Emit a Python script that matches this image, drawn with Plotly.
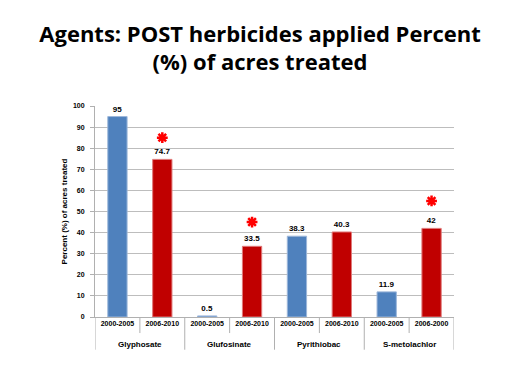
import plotly.graph_objects as go

herbicides = ["Glyphosate", "Glufosinate", "Pyrithiobac", "S-metolachlor"]
periods = ["2000-2005", "2006-2010", "2000-2005", "2006-2010",
           "2000-2005", "2006-2010", "2000-2005", "2006-2000"]
values_2000_2005 = [95, 0.5, 38.3, 11.9]
values_2006_2010 = [74.7, 33.5, 40.3, 42]
star_values = [85, 45, None, 55]

blue = "#4F81BD"
red = "#C00000"

x_blue = [2 * i for i in range(4)]
x_red = [2 * i + 1 for i in range(4)]

small_font = dict(family="Liberation Sans", size=8, color="black")

fig = go.Figure()
fig.add_trace(go.Bar(
    x=x_blue, y=values_2000_2005, width=0.43,
    marker=dict(color=blue, line=dict(color="#9db7da", width=1)),
    text=["<b>" + str(v) + "</b>" for v in values_2000_2005], textposition="outside",
    textfont=small_font, cliponaxis=False, showlegend=False))
fig.add_trace(go.Bar(
    x=x_red, y=values_2006_2010, width=0.43,
    marker=dict(color=red, line=dict(color="#e07a7a", width=1)),
    text=["<b>" + str(v) + "</b>" for v in values_2006_2010], textposition="outside",
    textfont=small_font, cliponaxis=False, showlegend=False))

sx = [x_red[i] for i, v in enumerate(star_values) if v is not None]
sy = [v for v in star_values if v is not None]
fig.add_trace(go.Scatter(
    x=sx, y=sy, mode="markers",
    marker=dict(symbol="asterisk-open", size=9, color="#FF0000",
                line=dict(color="#FF0000", width=2.5)),
    showlegend=False, hoverinfo="skip"))

shapes = []
for k in range(9):
    long = (k % 2 == 0)
    shapes.append(dict(type="line", xref="x", yref="paper",
                       x0=k - 0.5, x1=k - 0.5, y0=0,
                       y1=-0.155 if long else -0.076,
                       line=dict(color="#b0b0b0", width=1)))

annotations = []
for i, h in enumerate(herbicides):
    annotations.append(dict(x=2 * i + 0.5, y=-0.128, xref="x", yref="paper",
                            text="<b>" + h + "</b>", showarrow=False,
                            font=small_font, yanchor="middle"))

fig.update_layout(
    width=504, height=376,
    margin=dict(l=87, r=58, t=98, b=67),
    paper_bgcolor="white", plot_bgcolor="white",
    title=dict(text="<b>Agents: POST herbicides applied Percent<br>(%) of acres treated</b>",
               x=0.5, xanchor="center", y=0.91, yanchor="top",
               font=dict(family="Open Sans", size=22, color="black")),
    shapes=shapes, annotations=annotations,
    xaxis=dict(range=[-0.5, 7.5], tickmode="array", tickvals=list(range(8)),
               ticktext=["<b>" + p + "</b>" for p in periods],
               tickfont=dict(family="Liberation Sans", size=7, color="black"),
               showgrid=False, zeroline=False, showline=True,
               linecolor="#b0b0b0", linewidth=1, ticks=""),
    yaxis=dict(range=[0, 100], dtick=10, showgrid=True, gridcolor="#bdbdbd",
               gridwidth=1, zeroline=False, showline=True, linecolor="#b0b0b0",
               ticks="outside", ticklen=4, tickcolor="#b0b0b0",
               ticklabelstandoff=4,
               tickfont=dict(family="Liberation Sans", size=7, color="black",
                             weight="bold"),
               title=dict(text="<b>Percent (%) of acres treated</b>", standoff=4,
                          font=dict(family="Liberation Sans", size=8, color="black"))),
)

fig.write_html("out.html")
